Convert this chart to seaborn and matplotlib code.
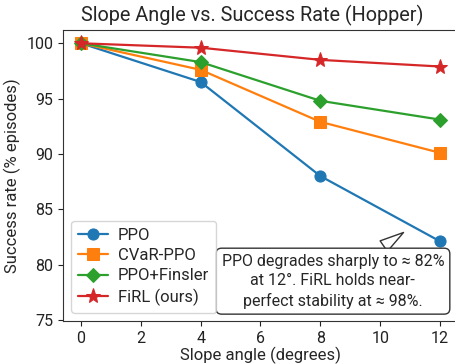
import matplotlib
matplotlib.use("Agg")
import matplotlib.pyplot as plt
import seaborn as sns
import pandas as pd

angles = [0, 4, 8, 12]
ppo = [100.0, 96.5, 88.0, 82.1]
cvar_ppo = [100.0, 97.6, 92.9, 90.1]
ppo_finsler = [100.0, 98.3, 94.8, 93.1]
firl = [100.0, 99.6, 98.5, 97.9]
methods = ["PPO", "CVaR-PPO", "PPO+Finsler", "FiRL (ours)"]
series = [ppo, cvar_ppo, ppo_finsler, firl]

rows = []
for m, vals in zip(methods, series):
    for a, v in zip(angles, vals):
        rows.append({"angle": a, "rate": v, "method": m})
df = pd.DataFrame(rows)

sns.set_style("ticks")
plt.rcParams["font.family"] = ["Roboto", "DejaVu Sans"]

fig = plt.figure(figsize=(4.56, 3.64), dpi=100)
ax = fig.add_axes([63 / 456, 43 / 364, (458 - 63) / 456, (321 - 30) / 364])

palette = ["#1f77b4", "#ff7f0e", "#2ca02c", "#d62728"]
markers = ["o", "s", "D", "*"]
sizes = [8, 8, 7.5, 11]
for m, c, mk, ms in zip(methods, palette, markers, sizes):
    sub = df[df["method"] == m]
    sns.lineplot(data=sub, x="angle", y="rate", ax=ax, color=c, marker=mk,
                 markersize=ms, markeredgecolor=c, linewidth=1.6, label=m)

ax.set_xlim(-0.6, 12.6)
ax.set_ylim(74.9, 101.2)
ax.set_xticks([0, 2, 4, 6, 8, 10, 12])
ax.set_yticks([75, 80, 85, 90, 95, 100])
ax.tick_params(labelsize=11.5, colors="#222222")
ax.set_xlabel("Slope angle (degrees)", fontsize=12, labelpad=1)
ax.set_ylabel("Success rate (% episodes)", fontsize=12, labelpad=4)
ax.set_title("Slope Angle vs. Success Rate (Hopper)", fontsize=14.3, x=0.48)
for s in ax.spines.values():
    s.set_color("#333333")

ax.legend(loc="lower left", fontsize=12, frameon=True, borderpad=0.4,
          handlelength=1.8, handletextpad=0.6, labelspacing=0.32,
          borderaxespad=0.5)

ax.annotate("PPO degrades sharply to \u2248 82%\nat 12\u00b0. FiRL holds near-\nperfect stability at \u2248 98%.",
            xy=(10.78, 82.9), xytext=(8.42, 78.5), ha="center", va="center",
            fontsize=11.5, linespacing=1.35,
            bbox=dict(boxstyle="round,pad=0.35", fc="white", ec="#333333", lw=1.0),
            arrowprops=dict(arrowstyle="wedge,tail_width=0.8", fc="white",
                            ec="#333333", lw=1.0, shrinkB=0))

fig.savefig("out.png", dpi=100)
